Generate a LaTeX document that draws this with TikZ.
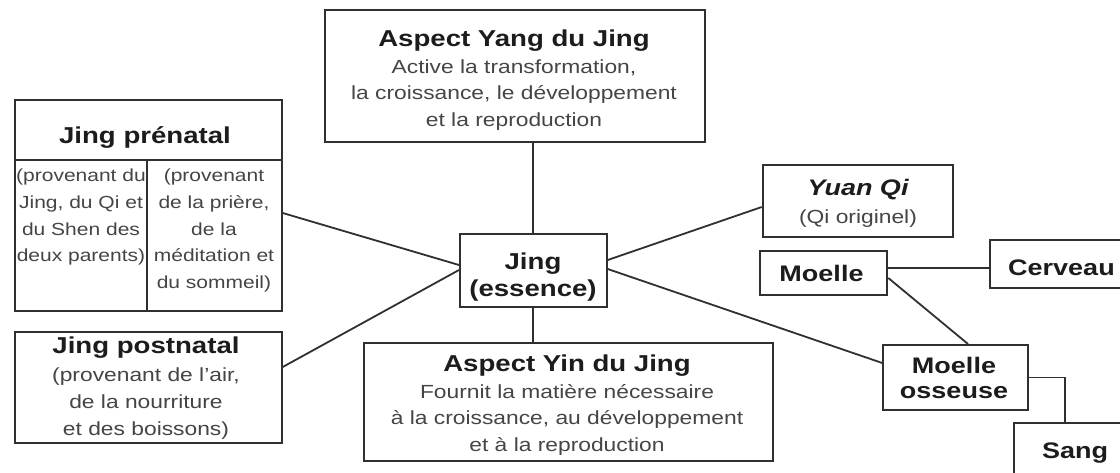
\documentclass[tikz,border=0pt]{standalone}
\usepackage{fontspec}
\setmainfont{Liberation Sans}[FakeStretch=1.2]
\definecolor{lc}{HTML}{303030}
\definecolor{tc}{HTML}{1C1C1C}
\definecolor{bc}{HTML}{454545}
\newcommand{\ttl}{\fontsize{23}{26.5}\selectfont\bfseries\color{tc}}
\newcommand{\ttls}{\fontsize{22.5}{25}\selectfont\bfseries\color{tc}}
\newcommand{\bdy}{\fontsize{19}{26.5}\selectfont\color{bc}}
\newcommand{\bdys}{\fontsize{17.5}{26.7}\selectfont\color{bc}}
\begin{document}
\begin{tikzpicture}[x=1pt,y=-1pt,
  box/.style={draw=lc,line width=2pt,inner sep=0pt,fill=white},
  txt/.style={inner sep=0pt,align=center,anchor=north,font=\fontsize{19}{26.5}\selectfont},
  conn/.style={draw=lc,line width=1.8pt}]
\fill[white] (0,0) rectangle (1120,472);
\clip (0,0) rectangle (1120,472);
% boxes
\node[box,minimum width=380pt,minimum height=131.5pt] (yang) at (515,75.75) {};
\node[box,minimum width=266.7pt,minimum height=210.7pt] (pren) at (148.35,205.35) {};
\node[box,minimum width=266.7pt,minimum height=111.6pt] (post) at (148.35,387.5) {};
\node[box,minimum width=146.7pt,minimum height=73pt] (jing) at (533.35,270.5) {};
\node[box,minimum width=408.7pt,minimum height=117.4pt] (yin) at (568.35,402) {};
\node[box,minimum width=190.6pt,minimum height=71.7pt] (yuan) at (858,200.85) {};
\node[box,minimum width=127.3pt,minimum height=44.3pt] (moelle) at (823.65,272.85) {};
\node[box,minimum width=150pt,minimum height=48.3pt] (cerv) at (1065,264.15) {};
\node[box,minimum width=145pt,minimum height=65pt] (oss) at (955.8,377.5) {};
\node[box,minimum width=126pt,minimum height=66.7pt] (sang) at (1077,456.65) {};
% dividers in prenatal box
\draw[lc,line width=2pt] (15,160) -- (281.7,160);
\draw[lc,line width=2pt] (146.7,160) -- (146.7,310.7);
% texts
\node[txt] (yangT) at (514,30.1) {\ttl Aspect Yang du Jing\\\bdy Active la transformation,\\\bdy la croissance, le développement\\\bdy et la reproduction};
\node[txt] (jingT) at (533,253) {\ttl Jing\\\ttl (essence)};
\node[txt] (prenT) at (145,126.2) {\ttl Jing prénatal};
\node[txt,font=\fontsize{17.5}{26.7}\selectfont] (prenL) at (81,168.9) {\bdys (provenant du\\\bdys Jing, du Qi et\\\bdys du Shen des\\\bdys deux parents)};
\node[txt,font=\fontsize{17.5}{26.7}\selectfont] (prenR) at (214,168.9) {\bdys (provenant\\\bdys de la prière,\\\bdys de la\\\bdys méditation et\\\bdys du sommeil)};
\node[txt,font=\fontsize{19}{26.7}\selectfont] (postT) at (146,336.7) {\ttl Jing postnatal\\[1.6pt]\bdy (provenant de l’air,\\\bdy de la nourriture\\\bdy et des boissons)};
\node[txt] (yinT) at (567,355) {\ttl Aspect Yin du Jing\\\bdy Fournit la matière nécessaire\\\bdy à la croissance, au développement\\\bdy et à la reproduction};
\node[txt] (yuanT) at (858,178.6) {\ttls\itshape Yuan Qi\\[1.8pt]\bdy (Qi originel)};
\node[inner sep=0pt,anchor=base] (moelleT) at (821.5,281.7) {\ttls Moelle};
\node[inner sep=0pt,anchor=base west] (cervT) at (1008,275) {\ttls Cerveau};
\node[txt,font=\fontsize{22.5}{25}\selectfont] (ossT) at (954,357) {\ttls Moelle\\\ttls osseuse};
\node[inner sep=0pt,anchor=base west] (sangT) at (1042,458.3) {\ttls Sang};
% connectors
\draw[conn] (yang.south -| jing.north) -- (jing.north);
\draw[conn] (jing.south) -- (jing.south |- yin.north);
\draw[conn] ([yshift=-7.65pt]pren.east) -- ([yshift=5.5pt]jing.west);
\draw[conn] ([yshift=20.5pt]post.east) -- ([yshift=0.5pt]jing.west);
\draw[conn] ([yshift=10.5pt]jing.east) -- ([yshift=-6.15pt]yuan.west);
\draw[conn] ([yshift=1.5pt]jing.east) -- ([yshift=14.5pt]oss.west);
\draw[conn] ([yshift=4.85pt]moelle.east) -- ([yshift=4.85pt]moelle.east -| cerv.west);
\draw[conn] ([yshift=-5.15pt]moelle.east) -- ([xshift=12.2pt]oss.north);
\draw[conn] (oss.east) -| ([xshift=-12pt]sang.north);
\end{tikzpicture}
\end{document}
